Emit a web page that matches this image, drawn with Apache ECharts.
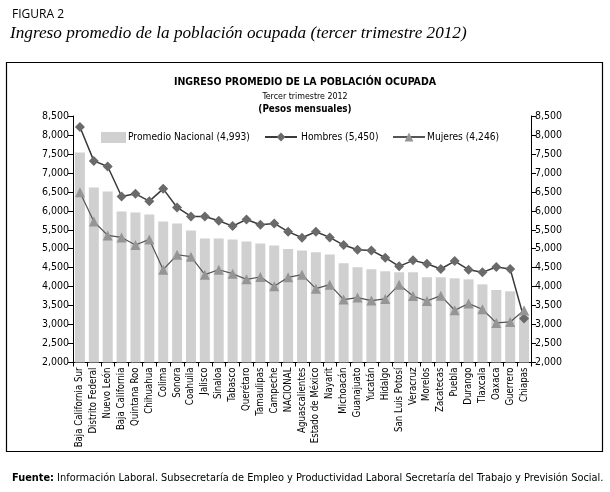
<!DOCTYPE html>
<html>
<head>
<meta charset="utf-8">
<script src="https://cdn.jsdelivr.net/npm/echarts@6/dist/echarts.min.js"></script>
<style>
  html, body { margin: 0; padding: 0; background: #fff; }
  #chart { width: 610px; height: 492px; }
</style>
</head>
<body>
<div id="chart"></div>
<script>
var estados = ['Baja California Sur', 'Distrito Federal', 'Nuevo León', 'Baja California', 'Quintana Roo',
  'Chihuahua', 'Colima', 'Sonora', 'Coahuila', 'Jalisco', 'Sinaloa', 'Tabasco', 'Querétaro', 'Tamaulipas',
  'Campeche', 'NACIONAL', 'Aguascalientes', 'Estado de México', 'Nayarit', 'Michoacán', 'Guanajuato',
  'Yucatán', 'Hidalgo', 'San Luis Potosí', 'Veracruz', 'Morelos', 'Zacatecas', 'Puebla', 'Durango',
  'Tlaxcala', 'Oaxaca', 'Guerrero', 'Chiapas'];

var promedio = [7535, 6614, 6509, 5982, 5956, 5903, 5719, 5667, 5482, 5272, 5272, 5246, 5193, 5140,
  5088, 4993, 4956, 4904, 4851, 4614, 4509, 4456, 4404, 4377, 4377, 4246, 4246, 4219, 4193,
  4061, 3912, 3877, 3272];

var hombres = [8211, 7316, 7167, 6377, 6447, 6254, 6579, 6088, 5851, 5851, 5737, 5597, 5772, 5632,
  5667, 5450, 5290, 5447, 5298, 5097, 4974, 4956, 4763, 4535, 4693, 4605, 4465, 4675, 4447,
  4377, 4518, 4465, 3158];

var mujeres = [6491, 5719, 5351, 5298, 5097, 5246, 4447, 4842, 4790, 4316, 4447, 4342, 4193, 4254,
  4009, 4246, 4316, 3947, 4053, 3658, 3711, 3632, 3676, 4053, 3754, 3623, 3763, 3377, 3553,
  3404, 3044, 3070, 3377];

var nombres = ['Promedio Nacional (4,993)', 'Hombres (5,450)', 'Mujeres (4,246)'];

var fuente = 'DejaVu Sans Condensed, DejaVu Sans, sans-serif';

var chart = echarts.init(document.getElementById('chart'), null, { renderer: 'canvas' });

function miles(v) {
  return String(v).replace(/\B(?=(\d{3})+(?!\d))/g, ',');
}

function ejeY(pos) {
  return {
    type: 'value',
    position: pos,
    min: 2000,
    max: 8500,
    interval: 500,
    splitLine: { show: false },
    axisLine: { show: true, lineStyle: { color: '#000', width: 1 } },
    axisTick: { show: true, length: 5, lineStyle: { color: '#000' } },
    axisLabel: { color: '#000', fontSize: 10.5, fontFamily: fuente, margin: 4, formatter: miles }
  };
}

var option = {
  backgroundColor: '#fff',
  animation: false,
  title: [
    { text: 'FIGURA 2', left: 7, top: 4, textStyle: { fontSize: 12, fontWeight: 'normal', fontFamily: 'Open Sans, sans-serif', color: '#000' } },
    { text: 'Ingreso promedio de la población ocupada (tercer trimestre 2012)', left: 5, top: 20,
      textStyle: { fontSize: 17.2, fontStyle: 'italic', fontWeight: 'normal', fontFamily: 'Liberation Serif, serif', color: '#000' } },
    { text: 'INGRESO PROMEDIO DE LA POBLACIÓN OCUPADA', left: 'center', top: 72,
      textStyle: { fontSize: 10.5, fontWeight: 'bold', fontFamily: fuente, color: '#000' } },
    { text: 'Tercer trimestre 2012', left: 'center', top: 87,
      textStyle: { fontSize: 8.8, fontWeight: 'normal', fontFamily: fuente, color: '#000' } },
    { text: '(Pesos mensuales)', left: 'center', top: 99,
      textStyle: { fontSize: 9.8, fontWeight: 'bold', fontFamily: fuente, color: '#000' } },
    { text: '{b|Fuente:} Información Laboral. Subsecretaría de Empleo y Productividad Laboral Secretaría del Trabajo y Previsión Social.',
      left: 7, top: 468,
      textStyle: { fontSize: 10.9, fontWeight: 'normal', fontFamily: fuente, color: '#000',
        rich: { b: { fontSize: 10.9, fontWeight: 'bold', fontFamily: fuente, color: '#000' } } } }
  ],
  graphic: [
    { type: 'rect', shape: { x: 6.5, y: 62.5, width: 596, height: 389 },
      style: { fill: null, stroke: '#000', lineWidth: 1.2 }, silent: true }
  ],
  legend: [
    { data: [{ name: nombres[0], icon: 'rect' }], left: 96, top: 127, itemWidth: 25, itemHeight: 11, itemGap: 0,
      textStyle: { fontSize: 10.2, fontFamily: fuente, color: '#000', padding: [0, 0, 0, -3] } },
    { data: [nombres[1]], left: 259, top: 127, itemWidth: 32, itemHeight: 11,
      textStyle: { fontSize: 10.2, fontFamily: fuente, color: '#000', padding: [0, 0, 0, -1] } },
    { data: [nombres[2]], left: 387, top: 127, itemWidth: 32, itemHeight: 11,
      textStyle: { fontSize: 10.2, fontFamily: fuente, color: '#000', padding: [0, 0, 0, -3] } }
  ],
  grid: { left: 73, right: 79, top: 116, bottom: 129.5 },
  xAxis: {
    type: 'category',
    data: estados,
    axisLine: { lineStyle: { color: '#000', width: 1 } },
    axisTick: { show: true, length: 4, lineStyle: { color: '#000' } },
    axisLabel: { rotate: 90, interval: 0, fontSize: 9.6, fontFamily: fuente, color: '#000', margin: 5 }
  },
  yAxis: [ejeY('left'), ejeY('right')],
  series: [
    { name: nombres[0], type: 'bar', data: promedio, barWidth: 10,
      itemStyle: { color: '#d0d0d0' } },
    { name: nombres[1], type: 'line', data: hombres, symbol: 'diamond', symbolSize: 10,
      lineStyle: { color: '#3a3a3a', width: 1.5 },
      itemStyle: { color: '#6a6a6a', borderWidth: 0 } },
    { name: nombres[2], type: 'line', data: mujeres, symbol: 'triangle', symbolSize: 10,
      lineStyle: { color: '#555', width: 1.2 },
      itemStyle: { color: '#959595', borderWidth: 0 } }
  ]
};

chart.setOption(option);
</script>
</body>
</html>
